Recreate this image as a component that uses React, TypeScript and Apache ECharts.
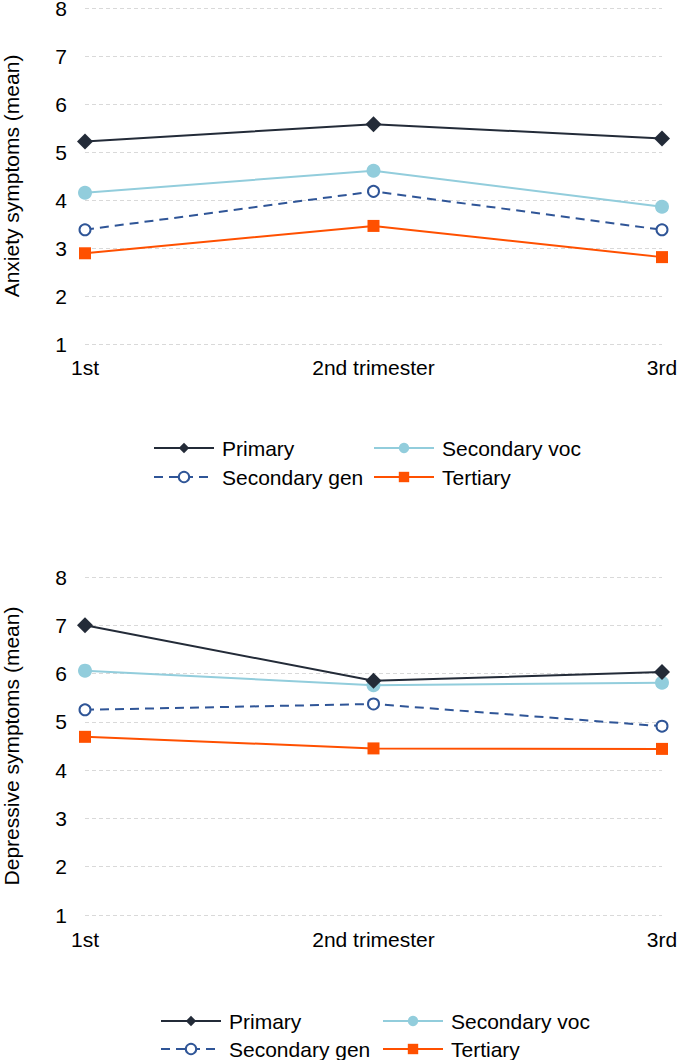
import React, { useEffect, useRef } from "react";
import * as echarts from "echarts";

const categories = ["1st", "2nd trimester", "3rd"];
const seriesNames = ["Primary", "Secondary voc", "Secondary gen", "Tertiary"];

const anxietyPrimary = [5.22, 5.58, 5.28];
const anxietySecVoc = [4.15, 4.61, 3.86];
const anxietySecGen = [3.38, 4.18, 3.38];
const anxietyTertiary = [2.89, 3.46, 2.81];

const depressPrimary = [7.0, 5.85, 6.03];
const depressSecVoc = [6.06, 5.76, 5.81];
const depressSecGen = [5.25, 5.37, 4.91];
const depressTertiary = [4.69, 4.45, 4.44];

const yTicks = [1, 2, 3, 4, 5, 6, 7, 8];

const colors = ["#232b38", "#92cddc", "#2f5597", "#ff5000"];
const FONT = "Liberation Sans, Arial, sans-serif";
const FS = 21;

function seriesFor(data: number[][], axisIndex: number) {
  const styles = [
    { symbol: "diamond", symbolSize: 16, dashed: false },
    { symbol: "circle", symbolSize: 14, dashed: false },
    { symbol: "emptyCircle", symbolSize: 11, dashed: true },
    { symbol: "rect", symbolSize: 12, dashed: false },
  ];
  return data.map((d, i) => ({
    name: seriesNames[i],
    type: "line",
    xAxisIndex: axisIndex,
    yAxisIndex: axisIndex,
    data: d,
    symbol: styles[i].symbol,
    symbolSize: styles[i].symbolSize,
    showAllSymbol: true,
    z: 10 - i,
    lineStyle: {
      color: colors[i],
      width: 2,
      type: styles[i].dashed ? [9, 6] : "solid",
    },
    itemStyle: i === 2
      ? { color: colors[i], borderWidth: 2 }
      : { color: colors[i] },
  }));
}

function xAxis(gridIndex: number, margin: number) {
  return {
    type: "category",
    gridIndex,
    data: categories,
    boundaryGap: false,
    axisLine: { show: false },
    axisTick: { show: false },
    axisLabel: { color: "#000", fontSize: FS, fontFamily: FONT, margin },
    splitLine: { show: false },
  };
}

function yAxis(gridIndex: number, name: string) {
  return {
    type: "value",
    gridIndex,
    min: yTicks[0],
    max: yTicks[yTicks.length - 1],
    interval: 1,
    name,
    nameLocation: "middle",
    nameGap: 63,
    nameTextStyle: { color: "#000", fontSize: FS, fontFamily: FONT },
    axisLine: { show: false },
    axisTick: { show: false },
    axisLabel: { color: "#000", fontSize: FS, fontFamily: FONT, margin: 18 },
    splitLine: { show: true, lineStyle: { color: "#d9d9d9", width: 1, type: [4, 3] } },
  };
}

function legend(left: number, centerY: number, name: string) {
  return {
    orient: "horizontal",
    left,
    top: centerY - 11,
    padding: 0,
    data: [name],
    itemWidth: 60,
    itemHeight: 13,
    selectedMode: false,
    textStyle: { color: "#000", fontSize: FS, fontFamily: FONT, lineHeight: 22, padding: [0, 0, 0, 3] },
  };
}

export default function App() {
  const ref = useRef<HTMLDivElement>(null);
  useEffect(() => {
    if (!ref.current) return;
    const chart = echarts.init(ref.current, undefined, { renderer: "svg" });
    chart.setOption({
      animation: false,
      backgroundColor: "#ffffff",
      grid: [
        { left: 85, right: 15, top: 8, height: 336, containLabel: false, outerBoundsMode: "none" },
        { left: 85, right: 15, top: 577, height: 338, containLabel: false, outerBoundsMode: "none" },
      ],
      xAxis: [xAxis(0, 13), xAxis(1, 14)],
      yAxis: [yAxis(0, "Anxiety symptoms (mean)"), yAxis(1, "Depressive symptoms (mean)")],
      legend: [
        legend(153, 448, "Primary"),
        legend(153, 477, "Secondary gen"),
        legend(373, 448, "Secondary voc"),
        legend(373, 477, "Tertiary"),
        legend(160, 1021, "Primary"),
        legend(160, 1049, "Secondary gen"),
        legend(382, 1021, "Secondary voc"),
        legend(382, 1049, "Tertiary"),
      ],
      series: [
        ...seriesFor([anxietyPrimary, anxietySecVoc, anxietySecGen, anxietyTertiary], 0),
        ...seriesFor([depressPrimary, depressSecVoc, depressSecGen, depressTertiary], 1),
      ],
    });
    return () => chart.dispose();
  }, []);
  return (
    <div
      ref={ref}
      style={{ position: "absolute", left: 0, top: 0, width: 677, height: 1060, background: "#fff" }}
    />
  );
}
